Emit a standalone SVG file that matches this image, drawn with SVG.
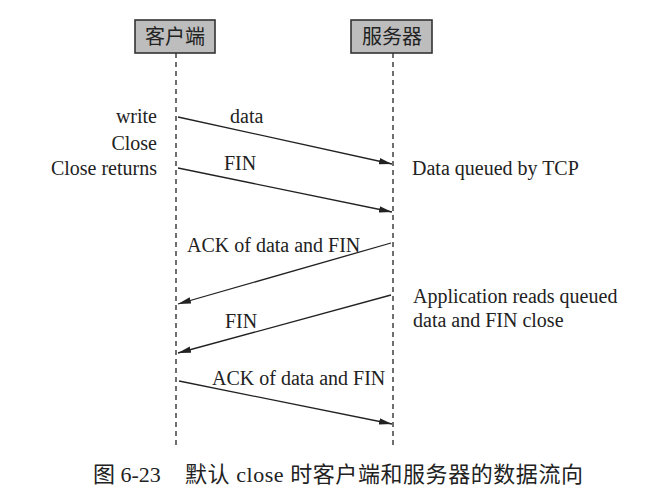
<svg xmlns="http://www.w3.org/2000/svg" width="661" height="500" viewBox="0 0 661 500">
  <style>
    .lbl { font-family: "Liberation Serif", "Times New Roman", serif; font-size: 20px; fill: #222; }
    .cjk { font-family: "Noto Sans CJK SC", sans-serif; font-size: 20px; fill: #222; }
    .cap { font-family: "Liberation Serif", "Noto Sans CJK SC", serif; font-size: 22px; fill: #222; }
    .box { fill: #bdbdbd; stroke: #333; stroke-width: 1.6; }
    .life { stroke: #333; stroke-width: 1.4; stroke-dasharray: 5 4; fill: none; }
    .msg { stroke: #222; stroke-width: 1.3; fill: none; marker-end: url(#arrow); }
  </style>
  <defs>
    <marker id="arrow" markerUnits="userSpaceOnUse" markerWidth="14" markerHeight="8" refX="13" refY="4" orient="auto">
      <path d="M0,0.8 L13,4 L0,7.2 Z" fill="#222"/>
    </marker>
  </defs>
  <rect width="661" height="500" fill="#ffffff"/>

  <g id="client">
    <rect class="box" x="135" y="20" width="80" height="33"/>
    <text class="cjk" x="175" y="44" text-anchor="middle">客户端</text>
    <line class="life" x1="176" y1="53" x2="176" y2="447"/>
  </g>

  <g id="server">
    <rect class="box" x="351" y="20" width="81" height="33"/>
    <text class="cjk" x="392" y="44" text-anchor="middle">服务器</text>
    <line class="life" x1="393" y1="53" x2="393" y2="447"/>
  </g>

  <g id="connectors">
    <line class="msg" x1="178" y1="117" x2="392" y2="164"/>
    <line class="msg" x1="178" y1="168" x2="392" y2="212"/>
    <line class="msg" x1="391" y1="243" x2="178" y2="304"/>
    <line class="msg" x1="391" y1="295" x2="178" y2="353"/>
    <line class="msg" x1="179" y1="381" x2="392" y2="424"/>
  </g>

  <g id="labels">
    <text class="lbl" x="157" y="123" text-anchor="end">write</text>
    <text class="lbl" x="157" y="150" text-anchor="end">Close</text>
    <text class="lbl" x="157" y="175" text-anchor="end">Close returns</text>
    <text class="lbl" x="230" y="123">data</text>
    <text class="lbl" x="224" y="170">FIN</text>
    <text class="lbl" x="412" y="175">Data queued by TCP</text>
    <text class="lbl" x="187" y="252">ACK of data and FIN</text>
    <text class="lbl" x="413" y="303">Application reads queued</text>
    <text class="lbl" x="413" y="327">data and FIN close</text>
    <text class="lbl" x="225" y="328">FIN</text>
    <text class="lbl" x="212" y="385">ACK of data and FIN</text>
  </g>

  <g id="caption">
    <text class="cap" x="93" y="482">图 6-23</text>
    <text class="cap" x="185" y="482" textLength="398" lengthAdjust="spacing">默认 close 时客户端和服务器的数据流向</text>
  </g>
</svg>
